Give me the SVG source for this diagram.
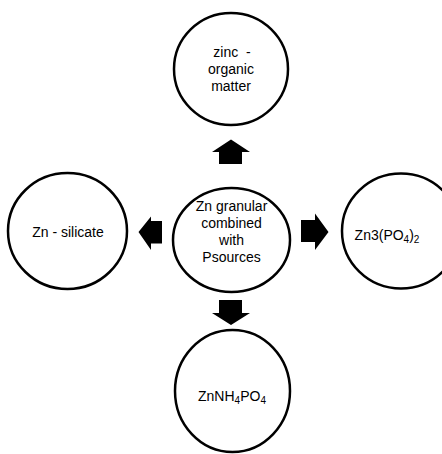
<svg xmlns="http://www.w3.org/2000/svg" width="442" height="454" viewBox="0 0 442 454">
<style>
.n{fill:#fff;stroke:#000;stroke-width:2.5}
.t{font-family:"Liberation Sans",Arial,sans-serif;font-size:14px;fill:#000;text-anchor:middle}
.a{fill:#000;stroke:none}
</style>
<rect width="442" height="454" fill="#fff"/>
<g id="connectors">
<polygon class="a" points="219,164 219,152 212,152 231,139.5 250,152 242,152 242,164"/>
<polygon class="a" points="162,221 151,221 151,216.5 138.5,232 151,250 151,243.5 162,243.5"/>
<polygon class="a" points="301,220 315,220 315,213.5 328.5,232 315,250 315,242 301,242"/>
<polygon class="a" points="219,300 242,300 242,313 250,313 231,325 212,313 219,313"/>
</g>
<g id="center">
<ellipse class="n" cx="231.5" cy="240" rx="58.5" ry="52"/>
<text class="t" x="231.5" y="211">Zn granular</text>
<text class="t" x="231.5" y="228">combined</text>
<text class="t" x="231.5" y="245">with</text>
<text class="t" x="231.5" y="262">Psources</text>
</g>
<g id="top">
<ellipse class="n" cx="231" cy="69" rx="57" ry="56"/>
<text class="t" x="232" y="57" xml:space="preserve">zinc  -</text>
<text class="t" x="231" y="74">organic</text>
<text class="t" x="231" y="91">matter</text>
</g>
<g id="left">
<ellipse class="n" cx="67.5" cy="231" rx="59.5" ry="58"/>
<text class="t" x="68" y="237">Zn - silicate</text>
</g>
<g id="right">
<ellipse class="n" cx="401" cy="231" rx="59" ry="57.5"/>
<text class="t" x="387" y="240">Zn3(PO<tspan font-size="10" dy="3">4</tspan><tspan dy="-3">)</tspan><tspan font-size="10" dy="3">2</tspan></text>
</g>
<g id="bottom">
<ellipse class="n" cx="232.5" cy="391" rx="57.5" ry="61"/>
<text class="t" x="232" y="401">ZnNH<tspan font-size="10" dy="3">4</tspan><tspan dy="-3">PO</tspan><tspan font-size="10" dy="3">4</tspan></text>
</g>
</svg>
